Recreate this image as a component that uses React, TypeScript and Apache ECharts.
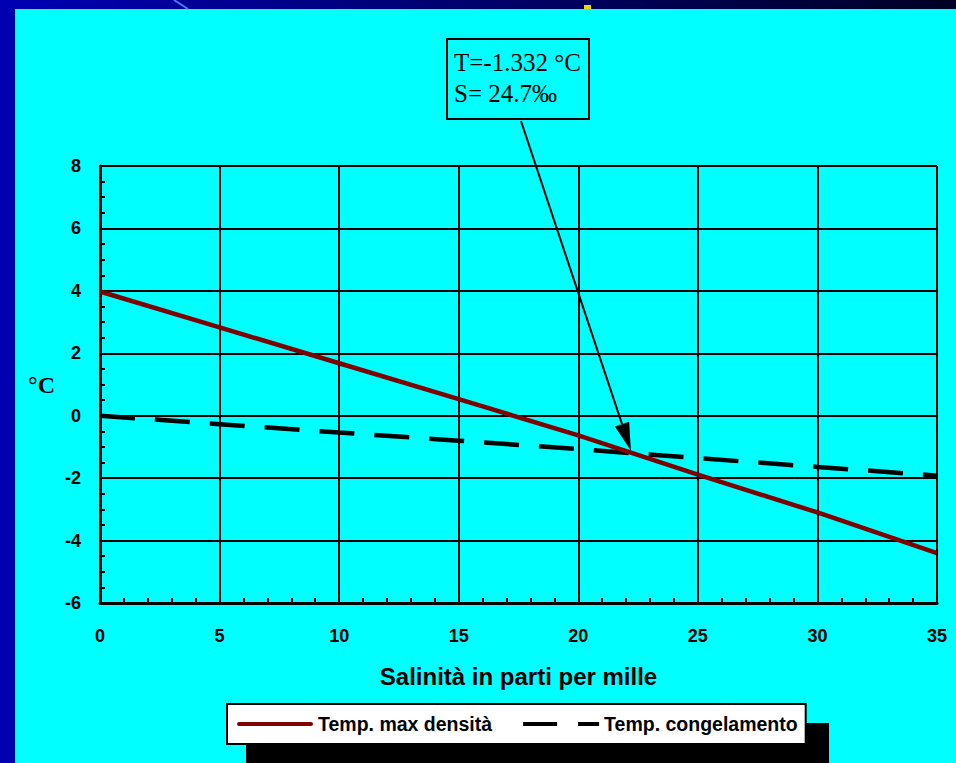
import React, { useEffect, useRef } from "react";
import * as echarts from "echarts";

// Salinity (parts per thousand)
const salinity = [0, 5, 10, 15, 20, 25, 30, 35];
// Temperature of maximum density (°C)
const tempMaxDensity = [3.98, 2.83, 1.68, 0.53, -0.63, -1.89, -3.1, -4.4];
// Freezing temperature (°C)
const tempFreezing = [0, -0.27, -0.54, -0.8, -1.07, -1.36, -1.64, -1.92];

const seriesNames = ["Temp. max densità", "Temp. congelamento"];
const xAxisTitle = "Salinità in parti per mille";
const yAxisTitle = "°C";
const xRange = { min: 0, max: 35, interval: 5 };
const yRange = { min: -6, max: 8, interval: 2 };

const annotationLines = ["T=-1.332 °C", "S= 24.7‰"];
const annotationPoint = [22.2, -1.12];

const SANS = '"Liberation Sans", Arial, sans-serif';
const SERIF = '"Liberation Serif", "Times New Roman", serif';

export default function App() {
  const ref = useRef<HTMLDivElement>(null);

  useEffect(() => {
    if (!ref.current) return;
    const chart = echarts.init(ref.current, undefined, { renderer: "svg" });

    const option: any = {
      animation: false,
      backgroundColor: "#00FFFF",
      grid: { left: 100, right: 19, top: 166, bottom: 160, containLabel: false },
      xAxis: {
        type: "value",
        min: xRange.min,
        max: xRange.max,
        interval: xRange.interval,
        name: xAxisTitle,
        nameLocation: "middle",
        nameGap: 61,
        nameTextStyle: { fontFamily: SANS, fontWeight: "bold", fontSize: 24, color: "#000" },
        axisLine: { show: true, onZero: false, lineStyle: { color: "#000", width: 3 } },
        axisTick: { show: true, inside: true, length: 5, lineStyle: { color: "#000", width: 2 } },
        minorTick: { show: true, splitNumber: 5, length: 5, lineStyle: { color: "#000", width: 2 } },
        axisLabel: { fontFamily: SANS, fontWeight: "bold", fontSize: 18, color: "#000", margin: 24 },
        splitLine: { show: true, lineStyle: { color: "#000", width: 2 } },
      },
      yAxis: {
        type: "value",
        min: yRange.min,
        max: yRange.max,
        interval: yRange.interval,
        name: yAxisTitle,
        nameLocation: "middle",
        nameRotate: 0,
        nameGap: 45,
        nameTextStyle: { fontFamily: SERIF, fontWeight: "bold", fontSize: 24, color: "#000" },
        axisLine: { show: true, onZero: false, lineStyle: { color: "#000", width: 3 } },
        axisTick: { show: true, inside: true, length: 5, lineStyle: { color: "#000", width: 2 } },
        minorTick: { show: true, splitNumber: 4, length: 5, lineStyle: { color: "#000", width: 2 } },
        axisLabel: { fontFamily: SANS, fontWeight: "bold", fontSize: 18, color: "#000", margin: 19 },
        splitLine: { show: true, lineStyle: { color: "#000", width: 2 } },
      },
      legend: {
        left: 227,
        top: 704,
        data: [
          { name: seriesNames[0], icon: "path://M2,0H74A2,2 0 0 1 74,4H2A2,2 0 0 1 2,0Z" },
          { name: seriesNames[1], icon: "path://M0,0H34V4H0Z M55,0H76V4H55Z" },
        ],
        itemWidth: 76,
        itemHeight: 4,
        itemGap: 31,
        padding: [10, 8, 10, 10],
        backgroundColor: "#FFFFFF",
        borderColor: "#000",
        borderWidth: 2,
        borderRadius: 0,
        itemStyle: { borderWidth: 0 },
        textStyle: { fontFamily: SANS, fontWeight: "bold", fontSize: 19.5, color: "#000", lineHeight: 18 },
      },
      series: [
        {
          name: seriesNames[1],
          type: "line",
          data: salinity.map((s, i) => [s, tempFreezing[i]]),
          symbol: "none",
          itemStyle: { color: "#000" },
          lineStyle: { color: "#000", width: 4.5, type: [35, 20] },
          z: 2,
        },
        {
          name: seriesNames[0],
          type: "line",
          data: salinity.map((s, i) => [s, tempMaxDensity[i]]),
          symbol: "none",
          itemStyle: { color: "#800000" },
          lineStyle: { color: "#800000", width: 4.5 },
          z: 3,
        },
      ],
    };
    chart.setOption(option);

    const tip = chart.convertToPixel({ xAxisIndex: 0, yAxisIndex: 0 }, annotationPoint) as number[];
    const start = [521, 121];
    const dx = tip[0] - start[0];
    const dy = tip[1] - start[1];
    const len = Math.sqrt(dx * dx + dy * dy);
    const ux = dx / len;
    const uy = dy / len;
    const headLen = 28;
    const headHalf = 7.5;
    const bx = tip[0] - ux * headLen;
    const by = tip[1] - uy * headLen;

    chart.setOption({
      graphic: [
        { type: "rect", shape: { x: 0, y: 0, width: 15, height: 763 }, style: { fill: "#0000AE" }, silent: true },
        {
          type: "rect",
          shape: { x: 0, y: 0, width: 956, height: 9 },
          style: {
            fill: new echarts.graphic.LinearGradient(0, 0, 1, 0, [
              { offset: 0, color: "#0000B4" },
              { offset: 1, color: "#000024" },
            ]),
          },
          silent: true,
        },
        { type: "line", shape: { x1: 174, y1: 0, x2: 188, y2: 9 }, style: { stroke: "#4A78FF", lineWidth: 2 }, silent: true },
        { type: "rect", shape: { x: 584, y: 5, width: 7, height: 4 }, style: { fill: "#E8D800" }, silent: true },
        // legend drop shadow
        { type: "rect", shape: { x: 246, y: 723, width: 583, height: 40 }, style: { fill: "#000" }, silent: true, z: 0 },
        // annotation box
        {
          type: "rect",
          shape: { x: 447, y: 39, width: 142, height: 80 },
          style: { fill: "#00FFFF", stroke: "#000", lineWidth: 2 },
          z: 10,
        },
        {
          type: "text",
          z: 11,
          style: { text: annotationLines[0], x: 454, y: 62.5, fill: "#000", font: `25px ${SERIF}`, verticalAlign: "middle" },
        },
        {
          type: "text",
          z: 11,
          style: { text: annotationLines[1], x: 454, y: 93.5, fill: "#000", font: `25px ${SERIF}`, verticalAlign: "middle" },
        },
        {
          type: "line",
          z: 11,
          shape: { x1: start[0], y1: start[1], x2: bx, y2: by },
          style: { stroke: "#000", lineWidth: 2 },
        },
        {
          type: "polygon",
          z: 11,
          shape: {
            points: [
              [tip[0], tip[1]],
              [bx - uy * headHalf, by + ux * headHalf],
              [bx + uy * headHalf, by - ux * headHalf],
            ],
          },
          style: { fill: "#000" },
        },
      ],
    });

    return () => chart.dispose();
  }, []);

  return (
    <div
      ref={ref}
      style={{ position: "fixed", left: 0, top: 0, width: 956, height: 763 }}
    />
  );
}
